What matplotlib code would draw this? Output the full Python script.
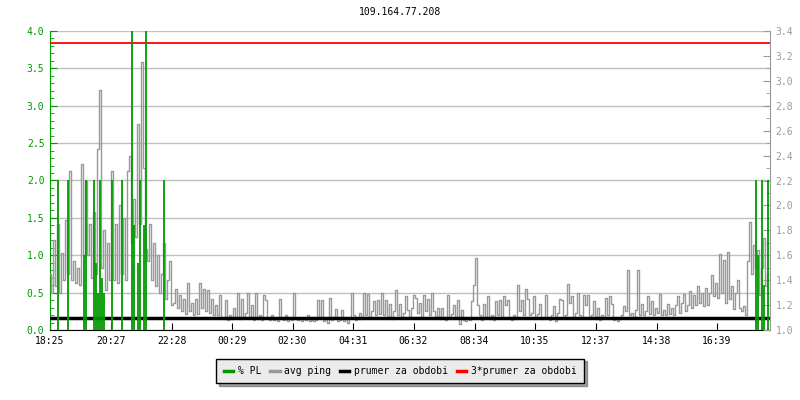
import numpy as np
import matplotlib
matplotlib.use("Agg")
import matplotlib.pyplot as plt
from matplotlib.lines import Line2D

# ---------------- data ----------------
title = "109.164.77.208"
sample_minutes = 4  # spacing of samples
x_tick_labels = ["18:25", "20:27", "22:28", "00:29", "02:30", "04:31",
                 "06:32", "08:34", "10:35", "12:37", "14:38", "16:39"]
left_ticks = [0.0, 0.5, 1.0, 1.5, 2.0, 2.5, 3.0, 3.5, 4.0]
right_ticks = [1.0, 1.2, 1.4, 1.6, 1.8, 2.0, 2.2, 2.4, 2.6, 2.8, 3.0, 3.2, 3.4]

avg_ping = [
    1.45, 1.30, 1.72, 1.35, 1.85, 1.30, 1.62, 1.40, 1.88, 1.45,
    2.28, 1.40, 1.55, 1.38, 1.50, 1.36, 2.33, 1.60, 2.20, 1.60,
    1.85, 1.42, 1.95, 1.45, 2.45, 2.93, 1.50, 1.80, 1.32, 1.70,
    1.40, 2.28, 1.40, 1.85, 1.38, 2.00, 1.45, 1.90, 1.40, 2.28,
    2.40, 1.70, 2.05, 1.75, 2.65, 1.85, 3.15, 2.30, 1.65, 1.55,
    1.85, 1.40, 1.70, 1.35, 1.60, 1.30, 1.45, 1.70, 1.25, 1.40,
    1.55, 1.20,
    1.22, 1.33, 1.18, 1.28, 1.15, 1.25, 1.13, 1.38, 1.15, 1.22,
    1.12, 1.25, 1.13, 1.38, 1.18, 1.33, 1.15, 1.32, 1.14, 1.25,
    1.12, 1.20, 1.12, 1.28, 1.10, 1.09, 1.24, 1.08, 1.12, 1.09,
    1.18, 1.10, 1.30, 1.09, 1.25, 1.10, 1.14, 1.30, 1.10, 1.20,
    1.08, 1.30, 1.09, 1.12, 1.08, 1.28, 1.24, 1.10, 1.08, 1.12,
    1.08, 1.10, 1.07, 1.25, 1.09, 1.08, 1.12, 1.07, 1.09, 1.08,
    1.30, 1.09, 1.08, 1.10, 1.07, 1.09, 1.08, 1.12, 1.07, 1.08,
    1.07,
    1.08, 1.24, 1.10, 1.24, 1.07, 1.09, 1.06, 1.26, 1.08, 1.10,
    1.17, 1.07, 1.08, 1.16, 1.07, 1.09, 1.06, 1.10, 1.30, 1.12,
    1.08, 1.10, 1.14, 1.09, 1.30, 1.12, 1.29, 1.10, 1.15, 1.23,
    1.12, 1.24, 1.13, 1.30, 1.12, 1.24, 1.10, 1.21, 1.09, 1.15,
    1.32, 1.12, 1.21, 1.10, 1.14, 1.27, 1.16, 1.10, 1.18, 1.28,
    1.26, 1.14, 1.22, 1.10, 1.28, 1.15, 1.25, 1.12, 1.30, 1.15,
    1.10, 1.18, 1.09, 1.18, 1.10, 1.08, 1.28, 1.10, 1.13, 1.20,
    1.10, 1.24,
    1.05, 1.16, 1.08, 1.07, 1.10, 1.08, 1.23, 1.36, 1.58, 1.20,
    1.12, 1.08, 1.21, 1.10, 1.27, 1.09, 1.12, 1.08, 1.23, 1.12,
    1.24, 1.10, 1.27, 1.20, 1.24, 1.10, 1.08, 1.12, 1.09, 1.36,
    1.15, 1.24, 1.12, 1.33, 1.25, 1.12, 1.14, 1.27, 1.10, 1.13,
    1.21, 1.09, 1.10, 1.28, 1.10, 1.08, 1.12, 1.19, 1.07, 1.14,
    1.25, 1.24, 1.10, 1.12, 1.37, 1.22, 1.27, 1.10, 1.14, 1.30,
    1.12, 1.10, 1.28, 1.20, 1.28, 1.10, 1.12, 1.23, 1.09, 1.18,
    1.08, 1.12, 1.10, 1.26, 1.12,
    1.27, 1.21, 1.08, 1.10, 1.07, 1.09, 1.12, 1.19, 1.15, 1.48,
    1.12, 1.14, 1.10, 1.16, 1.48, 1.12, 1.21, 1.12, 1.15, 1.27,
    1.13, 1.23, 1.12, 1.18, 1.14, 1.29, 1.12, 1.16, 1.12, 1.21,
    1.13, 1.18, 1.12, 1.20, 1.27, 1.14, 1.22, 1.29, 1.15, 1.20,
    1.31, 1.18, 1.28, 1.20, 1.35, 1.22, 1.30, 1.19, 1.34, 1.20,
    1.30, 1.44, 1.27, 1.38, 1.26, 1.61, 1.30, 1.56, 1.22, 1.63,
    1.25, 1.35, 1.17, 1.30, 1.40, 1.18, 1.15, 1.19, 1.12, 1.55,
    1.87, 1.45, 1.68, 1.50, 1.64, 1.28, 1.50, 1.74, 1.35, 1.45,
]

# packet loss spikes (minutes after start, % PL)
pl_minutes = [16, 36, 68, 72, 88, 92, 96, 100, 104, 108, 124, 144,
              164, 168, 176, 180, 188, 192, 228, 1412, 1416, 1424, 1428, 1436]
pl_values = [2.0, 2.0, 1.0, 2.0, 2.0, 0.9, 0.5, 2.0, 0.7, 0.5, 2.0, 2.0,
             4.0, 1.4, 0.9, 2.0, 1.4, 4.0, 2.0, 2.0, 1.0, 2.0, 0.6, 2.0]

period_mean = 1.10
period_mean_x3 = 3.30

# ---------------- styling ----------------
GREEN = "#009900"
GRAY = "#999999"
GRID = "#c0c0c0"
MONO = "DejaVu Sans Mono"
FS = 7

n = len(avg_ping)
t = np.arange(n) * sample_minutes


def to_min(lbl):
    h, mm = map(int, lbl.split(":"))
    h0, m0 = map(int, x_tick_labels[0].split(":"))
    return ((h * 60 + mm) - (h0 * 60 + m0)) % 1440


x_tick_pos = [to_min(l) for l in x_tick_labels]

fig = plt.figure(figsize=(8, 4), dpi=100)
rect = [50 / 800, 70 / 400, 720 / 800, 299 / 400]

ax = fig.add_axes(rect)
ax.set_zorder(1)
ax.set_xlim(0, 1440)
ax.set_ylim(0, 4)
ax.set_yticks(left_ticks)
ax.set_yticks(np.arange(0, 4.01, 0.1), minor=True)
ax.set_yticklabels([f"{v:.1f}" for v in left_ticks], fontfamily=MONO,
                   fontsize=FS, color=GREEN)
ax.set_xticks(x_tick_pos)
ax.set_xticklabels(x_tick_labels, fontfamily=MONO, fontsize=FS, color="black")
ax.tick_params(axis="y", which="major", direction="in", length=5,
               color=GREEN, pad=4)
ax.tick_params(axis="y", which="minor", direction="in", length=3, color=GREEN)
ax.tick_params(axis="x", which="major", direction="in", length=5,
               color="black", pad=4)
ax.grid(axis="y", which="major", color=GRID, lw=1)
ax.spines["top"].set_visible(False)
ax.spines["right"].set_visible(False)
ax.spines["left"].set_color(GREEN)
ax.spines["bottom"].set_color("black")

ax2 = ax.twinx()
ax2.set_zorder(2)
ax2.set_ylim(1.0, 3.4)
ax2.set_yticks(right_ticks)
ax2.set_yticks(np.arange(1.0, 3.401, 0.1), minor=True)
ax2.set_yticklabels([f"{v:.1f}" for v in right_ticks], fontfamily=MONO,
                    fontsize=FS, color=GRAY)
ax2.tick_params(axis="y", which="major", direction="in", length=5,
                color=GRAY, pad=4)
ax2.tick_params(axis="y", which="minor", direction="in", length=3, color=GRAY)
for s in ["top", "left", "bottom"]:
    ax2.spines[s].set_visible(False)
ax2.spines["right"].set_color(GRAY)

ax2.plot(t, avg_ping, color=GRAY, lw=1, drawstyle="steps-mid")
ax2.axhline(period_mean, color="black", lw=2.5)
ax2.axhline(period_mean_x3, color="red", lw=1.3)

ax3 = fig.add_axes(rect, sharex=ax, sharey=ax)
ax3.set_zorder(3)
ax3.axis("off")
ax3.vlines(pl_minutes, 0, pl_values, color=GREEN, lw=1.3)
ax.set_xlim(0, 1440)
ax.set_ylim(0, 4)

fig.text(0.5, 1 - 12 / 400, title, ha="center", va="center",
         fontfamily=MONO, fontsize=FS)

handles = [Line2D([], [], color=GREEN, lw=2.5),
           Line2D([], [], color=GRAY, lw=2.5),
           Line2D([], [], color="black", lw=2.5),
           Line2D([], [], color="red", lw=2.5)]
labels = ["% PL", "avg ping", "prumer za obdobi", "3*prumer za obdobi"]
leg = fig.legend(handles, labels, loc="center", bbox_to_anchor=(0.5, 0.0725),
                 ncol=4, frameon=True, fancybox=False, shadow=True,
                 edgecolor="black", facecolor="#ebebeb", framealpha=1,
                 handlelength=1.0, handletextpad=0.45, columnspacing=0.9,
                 borderpad=0.75, prop={"family": MONO, "size": FS})
leg.get_frame().set_linewidth(1)

fig.savefig("out.png", dpi=100)
